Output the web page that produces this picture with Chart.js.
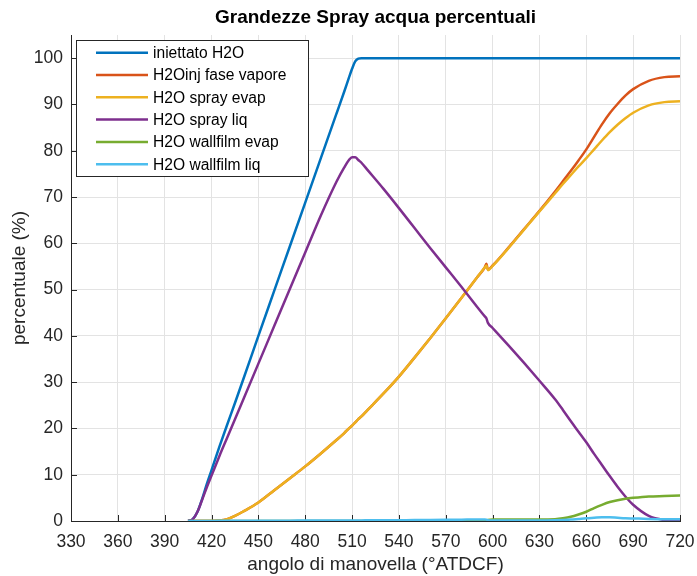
<!DOCTYPE html>
<html>
<head>
<meta charset="utf-8">
<script src="https://cdn.jsdelivr.net/npm/chart.js@4/dist/chart.umd.min.js"></script>
<style>
  html, body { margin: 0; padding: 0; background: #fff; }
  #wrap { width: 697px; height: 576px; }
</style>
</head>
<body>
<div id="wrap"><canvas id="sprayChart" width="697" height="576"></canvas></div>
<script>
// crank angle (°ATDCF)
const angles = [405, 408, 411, 414, 417, 420, 425, 430, 435, 440, 450, 460, 470, 480, 490, 500, 505, 508, 510, 512,
  514, 516, 520, 530, 540, 550, 560, 570, 580, 590, 595, 596, 597, 600, 610, 620, 630, 640, 645, 650,
  655, 660, 665, 670, 675, 680, 685, 690, 700, 710, 720];

// percentages
const iniettato = [0, 0.4, 2, 4.8, 8, 11, 16, 20.8, 25.5, 30.3, 40, 49.6, 59.2, 68.8, 78.4, 88, 92.8, 95.8, 97.7, 99.3,
  99.9, 100, 100, 100, 100, 100, 100, 100, 100, 100, 100, 100, 100, 100, 100, 100, 100, 100, 100, 100,
  100, 100, 100, 100, 100, 100, 100, 100, 100, 100, 100];
const faseVapore = [0, 0, 0, 0, 0, 0, 0.1, 0.4, 1.1, 2, 4, 6.6, 9.2, 11.8, 14.6, 17.5, 19, 20, 20.6, 21.3,
  22, 22.6, 24, 27.5, 31.2, 35.3, 39.5, 43.8, 48.2, 52.6, 54.8, 55.6, 54.3, 55.2, 59, 63, 67, 71.2, 73.4, 75.6,
  77.9, 80.3, 83, 85.7, 88.1, 90.1, 91.9, 93.3, 95.1, 95.9, 96.1];
const sprayEvap = [0, 0, 0, 0, 0, 0, 0.1, 0.4, 1.1, 2, 4, 6.6, 9.2, 11.8, 14.6, 17.5, 19, 20, 20.6, 21.3,
  22, 22.6, 24, 27.5, 31.2, 35.3, 39.5, 43.8, 48.2, 52.6, 54.8, 55.2, 54.2, 55.1, 58.9, 62.9, 66.9, 70.8, 72.8, 74.7,
  76.6, 78.4, 80.3, 82.2, 84, 85.6, 87, 88.2, 89.8, 90.5, 90.7];
const sprayLiq = [0, 0.4, 2, 4.6, 7.3, 9.8, 14, 18, 22, 26, 34, 42, 50, 58, 66, 73.3, 76.4, 78, 78.6, 78.6,
  78, 77.4, 75.8, 71.8, 67.6, 63.3, 59, 54.8, 50.6, 46.3, 44.2, 43.8, 42.8, 41.7, 38, 34.2, 30.3, 26.3, 24, 21.6,
  19.3, 17, 14.5, 12.1, 9.7, 7.4, 5.3, 3.5, 1.1, 0.2, 0];
const wallfilmEvap = [0, 0, 0, 0, 0, 0, 0, 0, 0, 0, 0, 0, 0, 0, 0, 0, 0, 0, 0, 0,
  0, 0, 0, 0, 0, 0, 0, 0, 0, 0, 0, 0.05, 0.2, 0.3, 0.3, 0.3, 0.3, 0.4, 0.6, 0.9,
  1.4, 2, 2.8, 3.5, 4.1, 4.5, 4.8, 5, 5.3, 5.4, 5.5];
const wallfilmLiq = [0, 0, 0, 0, 0.01, 0.02, 0.03, 0.04, 0.05, 0.05, 0.06, 0.07, 0.08, 0.09, 0.1, 0.11, 0.12, 0.12, 0.12, 0.13,
  0.13, 0.13, 0.14, 0.16, 0.18, 0.2, 0.23, 0.26, 0.29, 0.32, 0.34, 0.3, 0.15, 0.1, 0.1, 0.1, 0.1, 0.15, 0.2, 0.3,
  0.45, 0.6, 0.7, 0.8, 0.8, 0.7, 0.6, 0.55, 0.45, 0.4, 0.4];

const seriesNames = ['iniettato H2O', 'H2Oinj fase vapore', 'H2O spray evap', 'H2O spray liq', 'H2O wallfilm evap', 'H2O wallfilm liq'];
const seriesColors = ['#0072BD', '#D95319', '#EDB120', '#7E2F8E', '#77AC30', '#4DBEEE'];
const seriesValues = [iniettato, faseVapore, sprayEvap, sprayLiq, wallfilmEvap, wallfilmLiq];

const xTicks = [330, 360, 390, 420, 450, 480, 510, 540, 570, 600, 630, 660, 690, 720];
const yTicks = [0, 10, 20, 30, 40, 50, 60, 70, 80, 90, 100];

const FONT = '"Liberation Sans", Arial, Helvetica, sans-serif';
const AXIS_COLOR = '#262626';

// title, inward tick marks and the legend box are drawn by hand
const decorations = {
  id: 'decorations',
  beforeDatasetsDraw(chart) {
    const { ctx, chartArea: a, scales } = chart;
    ctx.save();
    ctx.strokeStyle = AXIS_COLOR;
    ctx.lineWidth = 1;
    ctx.beginPath();
    xTicks.forEach(v => {
      const x = Math.round(scales.x.getPixelForValue(v)) + 0.5;
      ctx.moveTo(x, a.bottom);
      ctx.lineTo(x, a.bottom - 6);
    });
    yTicks.forEach(v => {
      const y = Math.round(scales.y.getPixelForValue(v)) + 0.5;
      ctx.moveTo(a.left, y);
      ctx.lineTo(a.left + 6, y);
    });
    ctx.stroke();
    ctx.restore();
  },
  afterDraw(chart) {
    const { ctx, chartArea: a } = chart;
    ctx.save();
    // title
    ctx.fillStyle = '#000';
    ctx.font = 'bold 19px ' + FONT;
    ctx.textAlign = 'center';
    ctx.textBaseline = 'middle';
    ctx.fillText('Grandezze Spray acqua percentuali', (a.left + a.right) / 2, 18);

    // legend
    const bx = 76.5, by = 40.5, bw = 232, bh = 136;
    ctx.fillStyle = '#fff';
    ctx.fillRect(bx, by, bw, bh);
    ctx.strokeStyle = AXIS_COLOR;
    ctx.lineWidth = 1;
    ctx.strokeRect(bx, by, bw, bh);
    ctx.font = '15.6px ' + FONT;
    ctx.textAlign = 'left';
    ctx.textBaseline = 'middle';
    seriesNames.forEach((name, i) => {
      const y = 52.7 + i * 22.3;
      ctx.strokeStyle = seriesColors[i];
      ctx.lineWidth = 2.5;
      ctx.beginPath();
      ctx.moveTo(96, y);
      ctx.lineTo(148, y);
      ctx.stroke();
      ctx.fillStyle = '#000';
      ctx.fillText(name, 153, y + 1);
    });
    ctx.restore();
  }
};

new Chart(document.getElementById('sprayChart'), {
  type: 'line',
  data: {
    datasets: seriesNames.map((name, i) => ({
      label: name,
      data: angles.map((a, k) => ({ x: a, y: seriesValues[i][k] })),
      borderColor: seriesColors[i],
      backgroundColor: seriesColors[i],
      borderWidth: 2.5,
      pointRadius: 0,
      cubicInterpolationMode: 'monotone',
      order: seriesNames.length - i
    }))
  },
  options: {
    responsive: false,
    animation: false,
    layout: { padding: { left: 0, right: 17, top: 35, bottom: 0 } },
    plugins: {
      legend: { display: false },
      title: { display: false },
      tooltip: { enabled: false }
    },
    scales: {
      x: {
        type: 'linear',
        min: 330,
        max: 720,
        afterBuildTicks: s => { s.ticks = xTicks.map(v => ({ value: v })); },
        afterFit: s => { s.height = 55; s.paddingLeft = 0; s.paddingRight = 0; },
        grid: { color: '#e3e3e3', drawTicks: false },
        border: { color: AXIS_COLOR, width: 1 },
        ticks: { color: AXIS_COLOR, padding: 11, maxRotation: 0, font: { family: FONT, size: 17.5 } },
        title: {
          display: true,
          text: 'angolo di manovella (°ATDCF)',
          color: AXIS_COLOR,
          padding: 0,
          font: { family: FONT, size: 19, lineHeight: 1.2 }
        }
      },
      y: {
        min: 0,
        max: 105,
        afterBuildTicks: s => { s.ticks = yTicks.map(v => ({ value: v })); },
        afterFit: s => { s.width = 71; s.paddingTop = 0; s.paddingBottom = 0; },
        grid: { color: '#e3e3e3', drawTicks: false },
        border: { color: AXIS_COLOR, width: 1 },
        ticks: { color: AXIS_COLOR, padding: 8, font: { family: FONT, size: 17.5 } },
        title: {
          display: true,
          text: 'percentuale (%)',
          color: AXIS_COLOR,
          padding: { top: 8, bottom: 0 },
          font: { family: FONT, size: 19, lineHeight: 1.2 }
        }
      }
    }
  },
  plugins: [decorations]
});
</script>
</body>
</html>
